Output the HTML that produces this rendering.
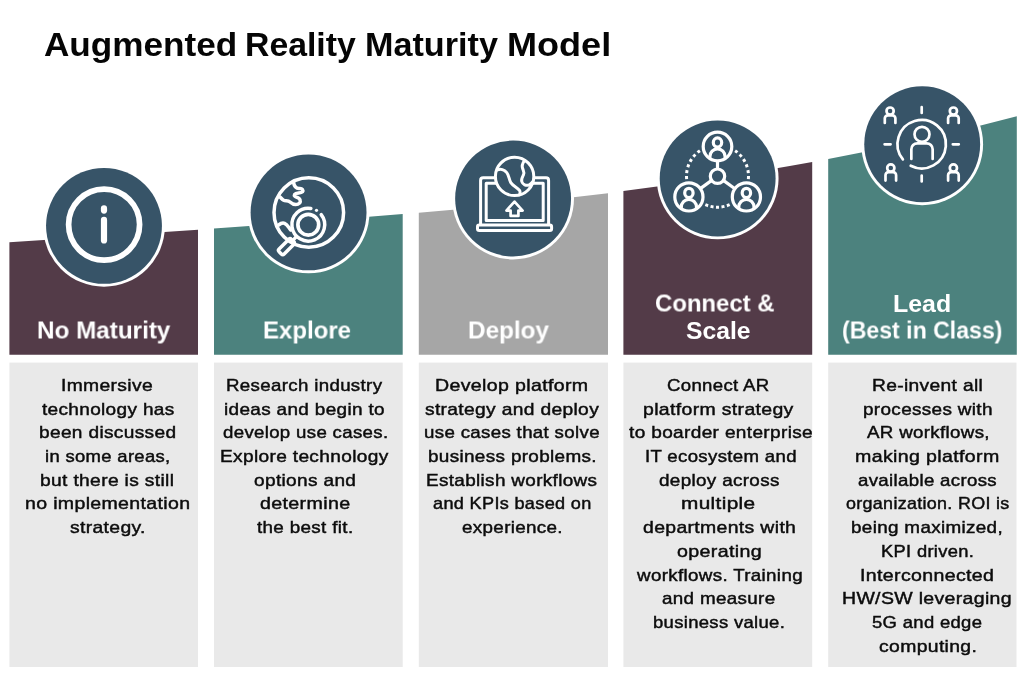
<!DOCTYPE html>
<html lang="en">
<head>
<meta charset="utf-8">
<title>Augmented Reality Maturity Model</title>
<style>
  html, body { margin: 0; padding: 0; }
  body { width: 1024px; height: 677px; position: relative; overflow: hidden; background: #ffffff;
         font-family: "Liberation Sans", sans-serif; color: #0b0b0b; }
  #art { position: absolute; left: 0; top: 0; width: 1024px; height: 677px; display: block; }
  h1, h2, p, section { margin: 0; padding: 0; font-size: inherit; font-weight: inherit; }
  span { position: absolute; display: block; white-space: nowrap; transform-origin: 0 50%; will-change: transform; }
  h1 span { font-size: 33.5px; line-height: 40px; font-weight: 700; color: #050505; }
  h2 span { font-size: 24.5px; line-height: 27px; font-weight: 700; color: #ffffff; }
  p span  { font-size: 17px; line-height: 24px; font-weight: 400; color: #0c0c0c; letter-spacing: 0.3px;
            -webkit-text-stroke: 0.45px #0c0c0c; }
</style>
</head>
<body>
<svg id="art" viewBox="0 0 1024 677" width="1024" height="677">
  <!-- coloured step headers (tops follow a rising curve) -->
  <path d="M9.4,242.2 Q103.7,236.28 198.0,229.8 V354.7 H9.4 Z" fill="#533b48"/>
  <path d="M214.0,228.4 Q308.4,222.00 402.7,214.0 V354.7 H214.0 Z" fill="#4c827e"/>
  <path d="M418.8,212.8 Q513.4,204.73 608.0,193.3 V354.7 H418.8 Z" fill="#a6a6a6"/>
  <path d="M623.4,191.0 Q717.8,179.19 812.2,162.0 V354.7 H623.4 Z" fill="#533b48"/>
  <path d="M828.2,159.0 Q922.5,141.28 1016.8,116.2 V354.7 H828.2 Z" fill="#4c827e"/>
  <!-- grey description panels -->
  <g fill="#e9e9e9">
    <rect x="9.4" y="362.6" width="188.6" height="304.4"/>
    <rect x="214.0" y="362.6" width="188.7" height="304.4"/>
    <rect x="418.8" y="362.6" width="189.2" height="304.4"/>
    <rect x="623.4" y="362.6" width="188.8" height="304.4"/>
    <rect x="828.2" y="362.6" width="188.3" height="304.4"/>
  </g>
  <!-- icon discs -->
  <g fill="#ffffff">
    <circle cx="104.0" cy="225.85" r="60.9"/>
    <circle cx="308.55" cy="212.4" r="60.9"/>
    <circle cx="513.1" cy="198.55" r="60.9"/>
    <circle cx="717.65" cy="178.45" r="60.9"/>
    <circle cx="922.2" cy="144.25" r="60.9"/>
  </g>
  <g fill="#375468">
    <circle cx="104.0" cy="225.85" r="57.95"/>
    <circle cx="308.55" cy="212.4" r="57.95"/>
    <circle cx="513.1" cy="198.55" r="57.95"/>
    <circle cx="717.65" cy="178.45" r="57.95"/>
    <circle cx="922.2" cy="144.25" r="57.95"/>
  </g>
  <!-- icons -->
  <g fill="none" stroke="#ffffff" stroke-linecap="round">
    <circle cx="104.1" cy="224.6" r="35.5" stroke-width="5.7"/>
    <line x1="104" y1="208.4" x2="104" y2="210.6" stroke-width="6.2"/>
    <line x1="104" y1="219.9" x2="104" y2="240.4" stroke-width="6.2"/>
  </g>
  <g fill="none" stroke="#ffffff" stroke-width="3.5" stroke-linecap="round" stroke-linejoin="round">
    <circle cx="308.8" cy="212.5" r="34.8"/>
    <path d="M293.5,182.2 C294.2,186.5 296.5,188.6 299.5,188.4 C302.4,188.2 303.6,190.2 302.4,191.9 C300.8,193.6 296,192.4 294.6,194.4 C293.4,196.6 297.4,197.2 299.2,198.6 C301,200.2 300.8,203.2 298,204.2 C295,205.2 292.2,204 290,202 C288,200.2 285.6,201.2 283.6,200.2 C282,199.4 281,198 280,197"/>
    <path d="M278.6,225 C280.4,223.6 282.6,222.6 284.6,223.4 C287.4,224.6 288.6,227.4 290.8,230"/>
    
    <path d="M321.22,214.60 A16.4,16.4 0 1 1 310.87,208.50"/>
    <circle cx="316.5" cy="210.3" r="1.6" fill="#ffffff" stroke="none"/>
    <circle cx="308.3" cy="224.7" r="10.4" stroke-width="3.7"/>
    <path d="M296.6,236.4 L292.6,240.6"/>
    <rect x="-3.55" y="0" width="7.1" height="17.5" rx="2" transform="translate(292.6,240.5) rotate(45)"/>
  </g>
  <g fill="none" stroke="#ffffff" stroke-width="3" stroke-linejoin="round" stroke-linecap="round">
    <path d="M480.6,224.6 V180.4 Q480.6,177.8 483.2,177.8 H546 Q548.6,177.8 548.6,180.4 V224.6"/>
    <rect x="486.2" y="183.2" width="57" height="37.4"/>
    <rect x="477.5" y="225" width="74.1" height="5.6" rx="1.8"/>
    <circle cx="514.6" cy="176.4" r="19.2" fill="#375468"/>
    <path d="M497.4,169.9 C500.6,168.6 504.4,169.6 506.6,172.4 C509.4,175.8 508.8,179.6 510.8,182.6 C513,186 517.2,187.4 519.4,190.2 C520.4,191.6 520.2,193.2 519.6,194.6"/>
    <path d="M524.4,160.6 C522.6,163.2 521.6,165.8 522.6,168.4 C523.6,171 524.6,172.6 523.4,175 C522.2,177.4 521,179.2 521.8,181.6 C522.8,184.6 526,186 529,185 C530.6,184.4 531.6,183.4 532.4,182.2"/>
    <path d="M514.5,201.6 L522.6,210.6 H518.4 V215.9 H510.6 V210.6 H506.4 Z" stroke-width="2.7"/>
  </g>
  <g fill="none" stroke="#ffffff" stroke-width="3.2">
    <g stroke-width="3">
      <path stroke-dasharray="3 2.95" d="M686.63,179.06 A31.0,31.0 0 0 1 699.90,150.68"/>
      <path stroke-dasharray="3 2.95" d="M748.37,179.06 A31.0,31.0 0 0 0 735.10,150.68"/>
      <path stroke-dasharray="3 2.49" d="M729.66,204.71 A31.0,31.0 0 0 1 705.29,204.69"/>
    </g>
    <line x1="717.50" y1="169.00" x2="717.50" y2="160.80"/>
    <line x1="711.67" y1="180.42" x2="700.32" y2="188.63"/>
    <line x1="723.35" y1="180.39" x2="734.94" y2="188.69"/>
    <circle cx="717.5" cy="176.2" r="7.2"/>
    <clipPath id="cp0"><circle cx="717.5" cy="146.5" r="14.3"/></clipPath>
    <circle cx="717.5" cy="146.5" r="14.3" fill="#375468"/>
    <g clip-path="url(#cp0)"><ellipse cx="717.5" cy="142.5" rx="4.2" ry="4.6"/><path d="M709.90,160.50 V156.70 a7.6,7.8 0 0 1 15.2,0 V160.50"/></g>
    <clipPath id="cp1"><circle cx="688.9" cy="196.9" r="14.1"/></clipPath>
    <circle cx="688.9" cy="196.9" r="14.1" fill="#375468"/>
    <g clip-path="url(#cp1)"><ellipse cx="688.9" cy="192.9" rx="4.2" ry="4.6"/><path d="M681.30,210.90 V207.10 a7.6,7.8 0 0 1 15.2,0 V210.90"/></g>
    <clipPath id="cp2"><circle cx="746.4" cy="196.9" r="14.1"/></clipPath>
    <circle cx="746.4" cy="196.9" r="14.1" fill="#375468"/>
    <g clip-path="url(#cp2)"><ellipse cx="746.4" cy="192.9" rx="4.2" ry="4.6"/><path d="M738.80,210.90 V207.10 a7.6,7.8 0 0 1 15.2,0 V210.90"/></g>
  </g>
  <g fill="none" stroke="#ffffff" stroke-width="2.7" stroke-linecap="round" stroke-linejoin="round">
    <path d="M902.89,159.43 A24.2,24.2 0 1 1 910.71,165.76"/>
    <circle cx="922" cy="134.3" r="7.5"/><path d="M911.35,158.9 V149.30 a6,6 0 0 1 6,-6 H926.65 a6,6 0 0 1 6,6 V158.9"/>
    <circle cx="890.1" cy="111.1" r="3.6"/><path d="M884.80,123 V118.30 a3,3 0 0 1 3,-3 H892.40 a3,3 0 0 1 3,3 V123"/>
    <circle cx="953.4" cy="111.1" r="3.6"/><path d="M948.10,123 V118.30 a3,3 0 0 1 3,-3 H955.70 a3,3 0 0 1 3,3 V123"/>
    <circle cx="890.8" cy="168" r="3.6"/><path d="M885.50,180.6 V175.20 a3,3 0 0 1 3,-3 H893.10 a3,3 0 0 1 3,3 V180.6"/>
    <circle cx="953.4" cy="168" r="3.6"/><path d="M948.10,180.6 V175.20 a3,3 0 0 1 3,-3 H955.70 a3,3 0 0 1 3,3 V180.6"/>
    <path d="M921.7,107.2 V113 M921.7,175.6 V181.4 M884.6,144.3 H890.6 M952.8,144.3 H958.8"/>
  </g>
</svg>

<h1><span style="left:43.68px; top:25.39px; transform:scaleX(1.0484);">Augmented</span> <span style="left:244.78px; top:25.39px; transform:scaleX(1.0083);">Reality</span> <span style="left:365.46px; top:25.39px; transform:scaleX(1.0199);">Maturity</span> <span style="left:507.35px; top:25.39px; transform:scaleX(1.0765);">Model</span></h1>
<section>
  <h2><span style="left:36.87px; top:316.01px; transform:translateY(0.50px) scaleX(0.9897);">No Maturity</span></h2>
  <p><span style="left:61.17px; top:374.11px; transform:scaleX(1.1339);">Immersive</span>
     <span style="left:41.50px; top:398.11px; transform:scaleX(1.1178);">technology has</span>
     <span style="left:38.70px; top:421.11px; transform:scaleX(1.1228);">been discussed</span>
     <span style="left:44.71px; top:445.11px; transform:scaleX(1.0851);">in some areas,</span>
     <span style="left:40.29px; top:469.11px; transform:scaleX(1.1306);">but there is still</span>
     <span style="left:24.54px; top:492.11px; transform:scaleX(1.1480);">no implementation</span>
     <span style="left:69.91px; top:516.11px; transform:scaleX(1.1368);">strategy.</span></p>
</section>
<section>
  <h2><span style="left:262.69px; top:316.01px; transform:translateY(0.50px) scaleX(0.9787);">Explore</span></h2>
  <p><span style="left:226.00px; top:374.11px; transform:scaleX(1.1000);">Research industry</span>
     <span style="left:224.08px; top:398.11px; transform:scaleX(1.1154);">ideas and begin to</span>
     <span style="left:222.60px; top:421.11px; transform:scaleX(1.0958);">develop use cases.</span>
     <span style="left:220.18px; top:445.11px; transform:scaleX(1.1235);">Explore technology</span>
     <span style="left:253.90px; top:469.11px; transform:scaleX(1.1217);">options and</span>
     <span style="left:259.80px; top:492.11px; transform:scaleX(1.1556);">determine</span>
     <span style="left:256.90px; top:516.11px; transform:scaleX(1.1078);">the best fit.</span></p>
</section>
<section>
  <h2><span style="left:467.67px; top:316.01px; transform:translateY(0.50px) scaleX(0.9917);">Deploy</span></h2>
  <p><span style="left:435.25px; top:374.11px; transform:scaleX(1.1510);">Develop platform</span>
     <span style="left:424.51px; top:398.11px; transform:scaleX(1.1298);">strategy and deploy</span>
     <span style="left:423.63px; top:421.11px; transform:scaleX(1.0991);">use cases that solve</span>
     <span style="left:427.71px; top:445.11px; transform:scaleX(1.1122);">business problems.</span>
     <span style="left:425.99px; top:469.11px; transform:scaleX(1.1124);">Establish workflows</span>
     <span style="left:432.60px; top:492.11px; transform:scaleX(1.0662);">and KPIs based on</span>
     <span style="left:461.90px; top:516.11px; transform:scaleX(1.1067);">experience.</span></p>
</section>
<section>
  <h2><span style="left:654.82px; top:289.01px; transform:translateY(0.50px) scaleX(0.9760);">Connect &amp;</span> <span style="left:685.79px; top:316.01px; transform:translateY(0.50px) scaleX(1.0077);">Scale</span></h2>
  <p><span style="left:667.11px; top:374.11px; transform:scaleX(1.0933);">Connect AR</span>
     <span style="left:642.98px; top:398.11px; transform:scaleX(1.1441);">platform strategy</span>
     <span style="left:629.40px; top:421.11px; transform:scaleX(1.1213);">to boarder enterprise</span>
     <span style="left:644.71px; top:445.11px; transform:scaleX(1.0949);">IT ecosystem and</span>
     <span style="left:658.70px; top:469.11px; transform:scaleX(1.1095);">deploy across</span>
     <span style="left:681.37px; top:492.11px; transform:scaleX(1.2216);">multiple</span>
     <span style="left:642.50px; top:516.11px; transform:scaleX(1.1415);">departments with</span>
     <span style="left:676.60px; top:540.11px; transform:scaleX(1.1556);">operating</span>
     <span style="left:636.72px; top:564.11px; transform:scaleX(1.1043);">workflows. Training</span>
     <span style="left:662.00px; top:587.11px; transform:scaleX(1.1069);">and measure</span>
     <span style="left:652.63px; top:611.11px; transform:scaleX(1.0860);">business value.</span></p>
</section>
<section>
  <h2><span style="left:892.73px; top:289.01px; transform:translateY(0.50px) scaleX(1.0174);">Lead</span> <span style="left:841.96px; top:316.01px; transform:translateY(0.50px) scaleX(0.9423);">(Best in Class)</span></h2>
  <p><span style="left:872.37px; top:374.11px; transform:scaleX(1.1299);">Re-invent all</span>
     <span style="left:862.50px; top:398.11px; transform:scaleX(1.1129);">processes with</span>
     <span style="left:867.27px; top:421.11px; transform:scaleX(1.1012);">AR workflows,</span>
     <span style="left:855.13px; top:445.11px; transform:scaleX(1.1526);">making platform</span>
     <span style="left:858.20px; top:469.11px; transform:scaleX(1.0971);">available across</span>
     <span style="left:845.90px; top:492.11px; transform:scaleX(1.0535);">organization. ROI is</span>
     <span style="left:851.31px; top:516.11px; transform:scaleX(1.1088);">being maximized,</span>
     <span style="left:881.22px; top:540.11px; transform:scaleX(1.0774);">KPI driven.</span>
     <span style="left:859.95px; top:564.11px; transform:scaleX(1.1513);">Interconnected</span>
     <span style="left:842.35px; top:587.11px; transform:scaleX(1.1453);">HW/SW leveraging</span>
     <span style="left:872.19px; top:611.11px; transform:scaleX(1.0852);">5G and edge</span>
     <span style="left:879.10px; top:635.11px; transform:scaleX(1.1400);">computing.</span></p>
</section>
</body>
</html>
